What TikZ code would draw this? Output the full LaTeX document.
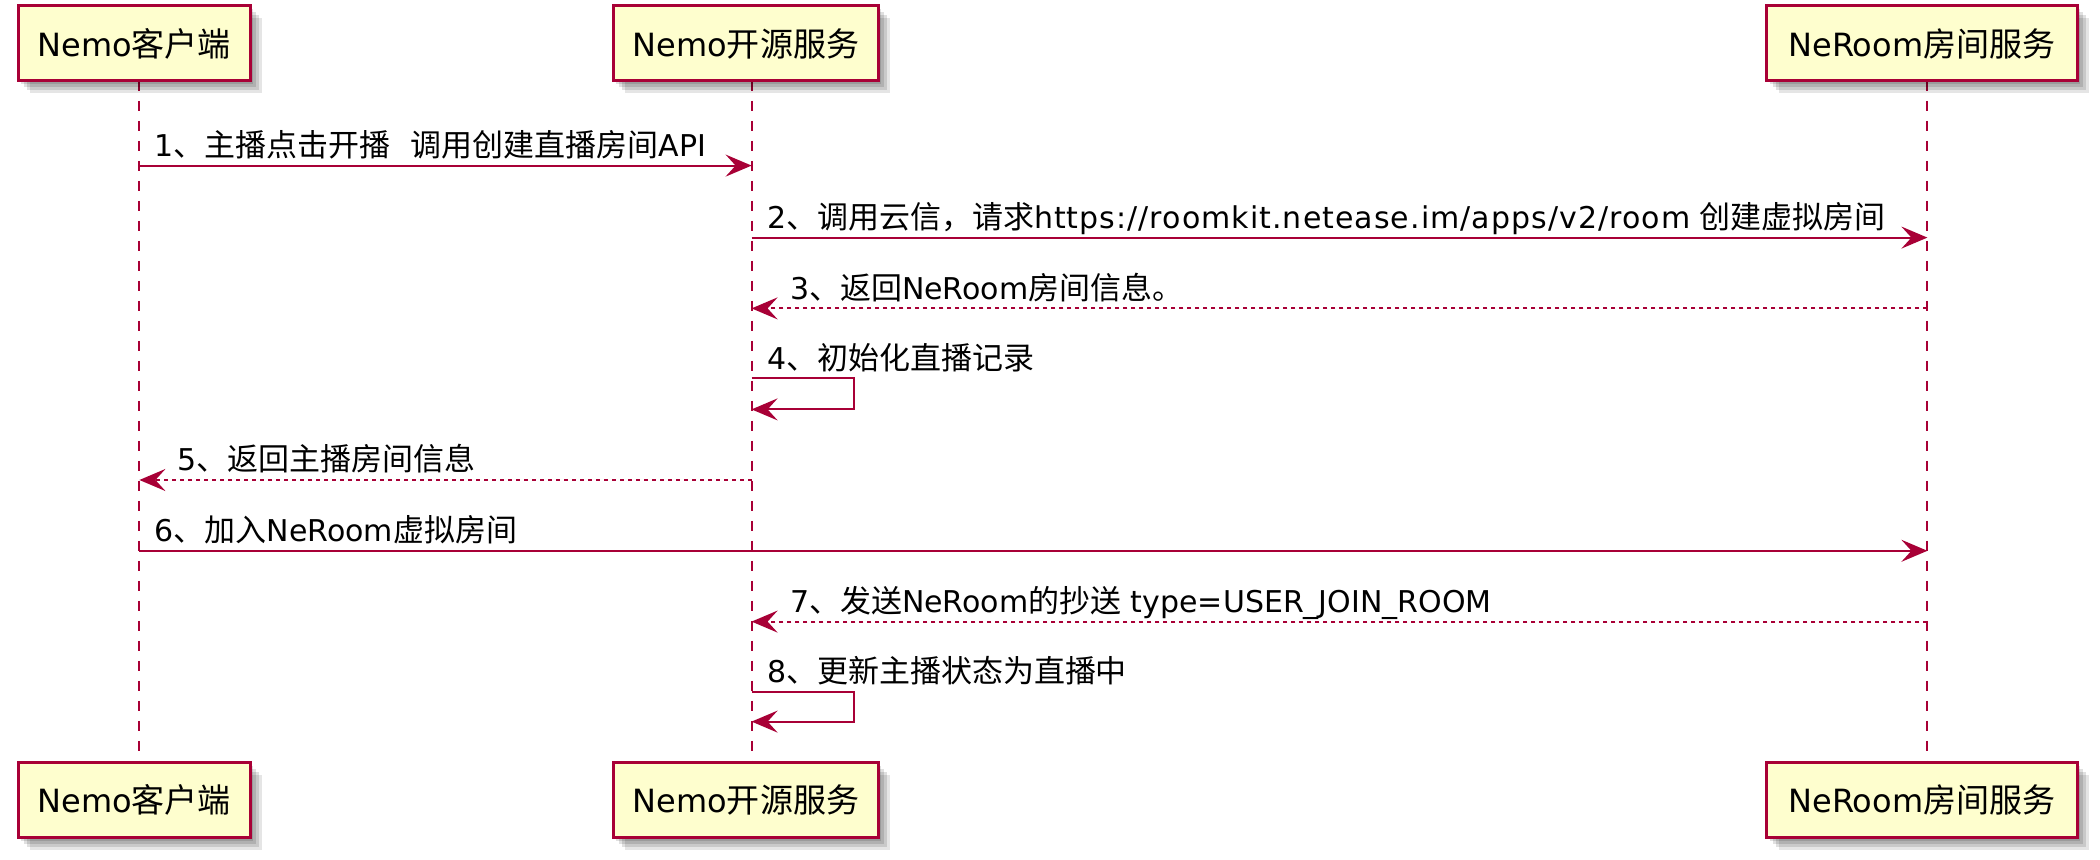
\documentclass[tikz,border=0pt]{standalone}
\usepackage{fontspec}
\setmainfont{DejaVu Sans}
\newfontfamily\cjk[Scale=1.033]{Noto Sans CJK SC}
\usetikzlibrary{arrows.meta,shadows}
\newcommand\zh[1]{{\cjk #1}}
\definecolor{bd}{HTML}{A80036}
\definecolor{bg}{HTML}{FEFECE}
\begin{document}
\begin{tikzpicture}[x=1pt,y=-1pt,
  pbox/.style={draw=bd, fill=bg, line width=1.5pt, inner sep=0pt, minimum height=37.5pt,
    font=\fontsize{16}{18}\selectfont, text=black,
    drop shadow={shadow xshift=1.5pt,shadow yshift=-1.5pt,opacity=0.12,fill=black},
    drop shadow={shadow xshift=3pt,shadow yshift=-3pt,opacity=0.12,fill=black},
    drop shadow={shadow xshift=4.5pt,shadow yshift=-4.5pt,opacity=0.12,fill=black},
    drop shadow={shadow xshift=6pt,shadow yshift=-6pt,opacity=0.10,fill=black}},
  life/.style={draw=bd, line width=1pt, dash pattern=on 5pt off 5pt},
  msg/.style={draw=bd, line width=1pt, -{Stealth[length=13pt,width=11pt,inset=5pt]}},
  ret/.style={msg, dash pattern=on 2pt off 2pt},
  lbl/.style={anchor=base west, inner sep=0pt, font=\fontsize{15}{17}\selectfont, text=black}]
\fill[white] (0,0) rectangle (1050,430);
\useasboundingbox (0,0) rectangle (1050,430);
\def\xc{69.7}\def\xs{375.8}\def\xr{963.7}
% lifelines
\coordinate (ct0) at (\xc,40.5); \coordinate (cb0) at (\xc,381.3);
\coordinate (st0) at (\xs,40.5); \coordinate (sb0) at (\xs,381.3);
\coordinate (rt0) at (\xr,40.5); \coordinate (rb0) at (\xr,381.3);
\draw[life] (ct0) -- (cb0);
\draw[life] (st0) -- (sb0);
\draw[life] (rt0) -- (rb0);
% participant boxes
\node[pbox, minimum width=115.8pt] (ct) at (67.1,21.75) {Nemo\zh{客户端}};
\node[pbox, minimum width=132.5pt] (st) at (372.95,21.75) {Nemo\zh{开源服务}};
\node[pbox, minimum width=155.4pt] (rt) at (961,21.75) {NeRoom\zh{房间服务}};
\node[pbox, minimum width=115.8pt] (cb) at (67.1,400.05) {Nemo\zh{客户端}};
\node[pbox, minimum width=132.5pt] (sb) at (372.95,400.05) {Nemo\zh{开源服务}};
\node[pbox, minimum width=155.4pt] (rb) at (961,400.05) {NeRoom\zh{房间服务}};
% message anchor points
\coordinate (c1) at (\xc,82.8);  \coordinate (s1) at (\xs,82.8);
\coordinate (s2) at (\xs,118.8); \coordinate (r2) at (\xr,118.8);
\coordinate (s3) at (\xs,154.2); \coordinate (r3) at (\xr,154.2);
\coordinate (s4) at (\xs,189.2); \coordinate (s4b) at (\xs,204.7);
\coordinate (c5) at (\xc,240.0); \coordinate (s5) at (\xs,240.0);
\coordinate (c6) at (\xc,275.4); \coordinate (r6) at (\xr,275.4);
\coordinate (s7) at (\xs,310.8); \coordinate (r7) at (\xr,310.8);
\coordinate (s8) at (\xs,345.8); \coordinate (s8b) at (\xs,360.8);
% messages
\draw[msg] (c1) -- (s1);
\node[lbl] (l1) at (\xc+7.5,82.8-4.5) {1\zh{、主播点击开播}\hspace{10pt}\zh{调用创建直播房间}API};
\draw[msg] (s2) -- (r2);
\node[lbl] (l2) at (\xs+7.5,118.8-4.5) {2\zh{、调用云信，请求}{\addfontfeature{LetterSpace=3.5}https://roomkit.netease.im/apps/v2/room} \zh{创建虚拟房间}};
\draw[ret] (r3) -- (s3);
\node[lbl] (l3) at (\xs+19,154.2-4.5) {3\zh{、返回}NeRoom\zh{房间信息。}};
\draw[msg] (s4) -- ++(51,0) |- (s4b);
\node[lbl] (l4) at (\xs+7.5,189.2-4.5) {4\zh{、初始化直播记录}};
\draw[ret] (s5) -- (c5);
\node[lbl] (l5) at (\xc+19,240-4.5) {5\zh{、返回主播房间信息}};
\draw[msg] (c6) -- (r6);
\node[lbl] (l6) at (\xc+7.5,275.4-4.5) {6\zh{、加入}NeRoom\zh{虚拟房间}};
\draw[ret] (r7) -- (s7);
\node[lbl] (l7) at (\xs+19,310.8-4.5) {7\zh{、发送}NeRoom\zh{的抄送} type=USER\_JOIN\_ROOM};
\draw[msg] (s8) -- ++(51,0) |- (s8b);
\node[lbl] (l8) at (\xs+7.5,345.8-4.5) {8\zh{、更新主播状态为直播中}};
\end{tikzpicture}
\end{document}
